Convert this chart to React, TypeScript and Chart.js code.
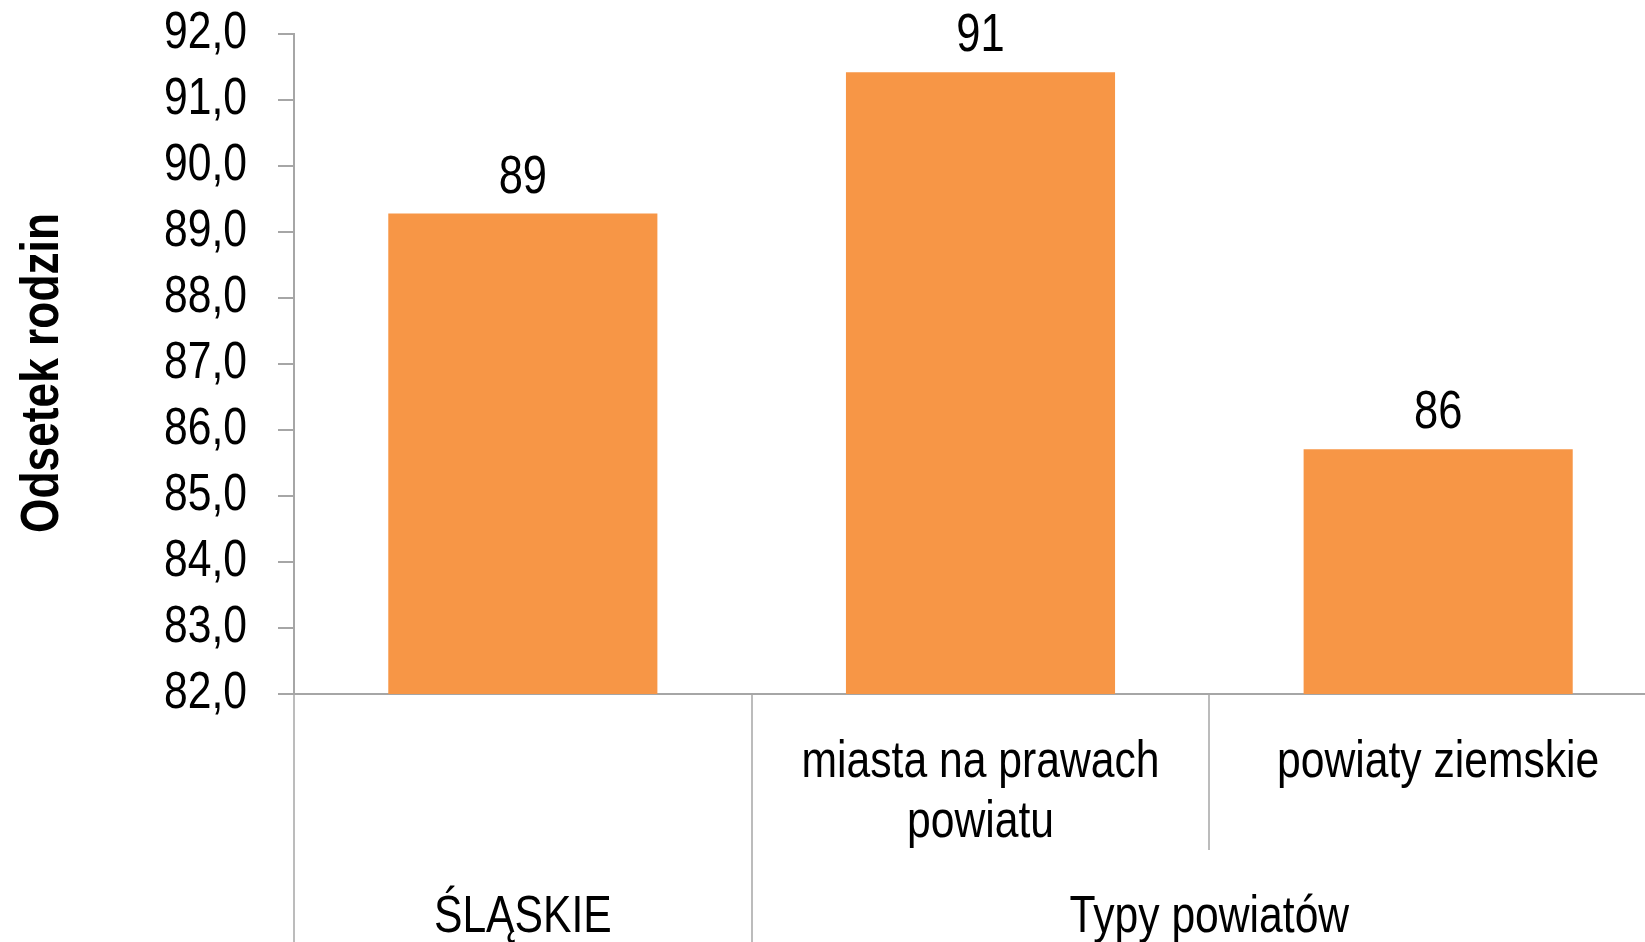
import React, { useEffect, useRef } from "react";
import { Chart, registerables } from "chart.js";

Chart.register(...registerables);

const categories: string[][] = [[""], ["miasta na prawach", "powiatu"], ["powiaty ziemskie"]];
const groupLabels: string[] = ["ŚLĄSKIE", "Typy powiatów"];
const groupSpans: number[] = [1, 2];
const values: number[] = [89.28, 91.42, 85.71];
const valueLabels: string[] = ["89", "91", "86"];
const yMin = 82;
const yMax = 92;
const yStep = 1;
const yTitle = "Odsetek rodzin";

const FONT = "'Liberation Sans', Arial, sans-serif";
const NARROW = 0.82;
const AXIS_GRAY = "#A6A6A6";
const BAR_COLOR = "#F79646";

const CANVAS_W = 1667;
const CANVAS_H = 942;

function narrowText(
  ctx: CanvasRenderingContext2D,
  text: string,
  x: number,
  y: number,
  font: string,
  align: CanvasTextAlign,
  baseline: CanvasTextBaseline,
  rotation = 0
) {
  ctx.save();
  ctx.translate(x, y);
  if (rotation) ctx.rotate(rotation);
  ctx.scale(NARROW, 1);
  ctx.font = font;
  ctx.textAlign = align;
  ctx.textBaseline = baseline;
  ctx.fillStyle = "#000";
  ctx.fillText(text, 0, 0);
  ctx.restore();
}

const textPlugin = {
  id: "narrowTexts",
  afterDraw(chart: any) {
    const ctx = chart.ctx as CanvasRenderingContext2D;
    const xs = chart.scales.x;
    const ys = chart.scales.y;
    const n = categories.length;
    const catW = xs.width / n;
    const axisY = xs.top;
    const level1Bottom = axisY + 156;
    const bottom = chart.height;
    const font = `52px ${FONT}`;

    // dividers between categories / groups
    ctx.save();
    ctx.strokeStyle = AXIS_GRAY;
    ctx.lineWidth = 1.5;
    const groupEdges = new Set<number>([0]);
    let acc = 0;
    groupSpans.forEach((s) => {
      acc += s;
      groupEdges.add(acc);
    });
    for (let i = 0; i < n; i++) {
      const px = Math.round(xs.getPixelForValue(i) - catW / 2);
      ctx.beginPath();
      ctx.moveTo(px, axisY);
      ctx.lineTo(px, groupEdges.has(i) ? bottom : level1Bottom);
      ctx.stroke();
    }
    ctx.restore();

    // y tick labels
    const tickRight = ys.right - 16 - 31;
    ys.ticks.forEach((t: any) => {
      const py = ys.getPixelForValue(t.value);
      narrowText(ctx, Number(t.value).toFixed(1).replace(".", ","), tickRight, py, font, "right", "middle");
    });

    // y title
    narrowText(ctx, yTitle, 58, (ys.top + ys.bottom) / 2 + 9, `bold 54px ${FONT}`, "center", "alphabetic", -Math.PI / 2);

    // category labels (level 1)
    categories.forEach((lines, i) => {
      const cx = xs.getPixelForValue(i);
      lines.forEach((line, li) => {
        if (line) narrowText(ctx, line, cx, axisY + 83 + li * 60, font, "center", "alphabetic");
      });
    });

    // group labels (level 2)
    let start = 0;
    groupLabels.forEach((g, gi) => {
      const span = groupSpans[gi];
      const left = xs.getPixelForValue(start) - catW / 2;
      const right = xs.getPixelForValue(start + span - 1) + catW / 2;
      narrowText(ctx, g, (left + right) / 2, 932, font, "center", "alphabetic");
      start += span;
    });

    // value labels
    const meta = chart.getDatasetMeta(0);
    meta.data.forEach((bar: any, i: number) => {
      narrowText(ctx, valueLabels[i], bar.x, bar.y - 21, `53px ${FONT}`, "center", "alphabetic");
    });
  },
};

export default function App() {
  const ref = useRef<HTMLCanvasElement | null>(null);
  useEffect(() => {
    if (!ref.current) return;
    const chart = new Chart(ref.current, {
      type: "bar",
      data: {
        labels: categories.map((c) => c.join(" ")),
        datasets: [
          {
            data: values,
            backgroundColor: BAR_COLOR,
            borderWidth: 0,
            barPercentage: 0.588,
            categoryPercentage: 1,
          },
        ],
      },
      options: {
        animation: false,
        responsive: false,
        devicePixelRatio: 1,
        layout: { padding: { left: 0, right: 0, top: 34, bottom: 0 } },
        plugins: {
          legend: { display: false },
          tooltip: { enabled: false },
        },
        scales: {
          x: {
            grid: { display: false },
            border: { display: true, color: AXIS_GRAY, width: 2 },
            ticks: { display: false },
            afterFit(scale: any) {
              scale.height = 248;
              scale.paddingLeft = 0;
              scale.paddingRight = 0;
            },
          },
          y: {
            min: yMin,
            max: yMax,
            grid: {
              display: true,
              drawOnChartArea: false,
              drawTicks: true,
              tickLength: 16,
              color: AXIS_GRAY,
              lineWidth: 2,
            },
            border: { display: true, color: AXIS_GRAY, width: 2 },
            ticks: { display: false, stepSize: yStep, autoSkip: false },
            afterFit(scale: any) {
              scale.width = 294;
              scale.paddingTop = 0;
              scale.paddingBottom = 0;
            },
          },
        },
      },
      plugins: [textPlugin],
    });
    return () => chart.destroy();
  }, []);
  return (
    <div
      style={{
        position: "fixed",
        left: 0,
        top: 0,
        width: 1645,
        height: 942,
        overflow: "hidden",
        background: "#fff",
      }}
    >
      <canvas ref={ref} width={CANVAS_W} height={CANVAS_H} style={{ width: CANVAS_W, height: CANVAS_H, display: "block" }} />
    </div>
  );
}
